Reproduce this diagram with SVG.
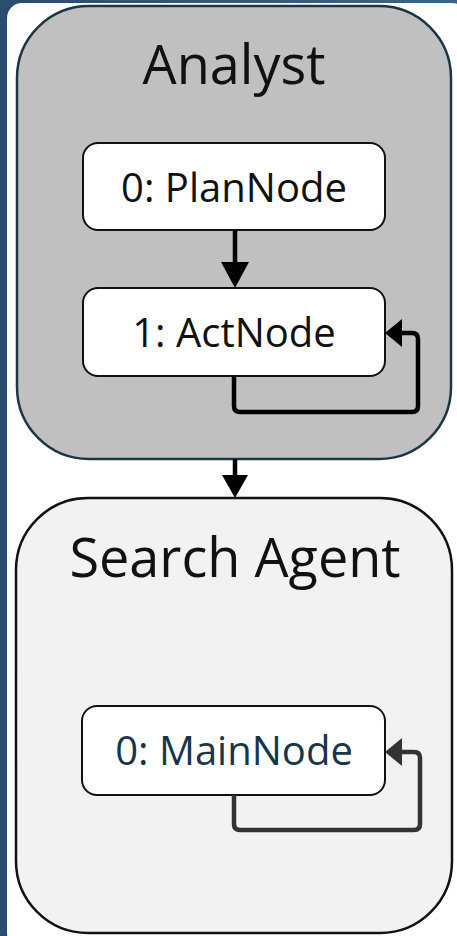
<svg xmlns="http://www.w3.org/2000/svg" width="457" height="936" viewBox="0 0 457 936">
<defs>
<linearGradient id="bg" x1="0" y1="0" x2="1" y2="0">
<stop offset="0" stop-color="#2a4d6e"/>
<stop offset="1" stop-color="#3a6486"/>
</linearGradient>
<style>
.cl-a{fill:#c0c0c0;stroke:#1b3644;stroke-width:2.5}
.cl-s{fill:#f3f2f3;stroke:#111;stroke-width:2.5}
.title{font-family:"Open Sans","Noto Sans",sans-serif;font-size:54px;fill:#111;text-anchor:middle}
.node rect{fill:#fff;stroke:#111;stroke-width:2}
.node text{font-family:"Open Sans","Noto Sans",sans-serif;font-size:40px;fill:#111;text-anchor:middle}
.edge{fill:none;stroke:#000;stroke-width:4.5;stroke-linejoin:round}
</style>
</defs>
<rect x="0" y="0" width="457" height="936" fill="url(#bg)"/>
<rect x="7" y="3" width="460" height="945" rx="15" fill="#fff"/>
<g id="analyst">
<rect class="cl-a" x="17" y="6" width="434" height="453" rx="72"/>
<text class="title" x="234" y="84">Analyst</text>
</g>
<g id="search-agent">
<rect class="cl-s" x="16" y="498" width="436" height="435" rx="72"/>
<text class="title" x="235" y="577">Search Agent</text>
</g>
<g id="plan-node" class="node">
<rect x="83" y="143" width="302" height="87" rx="15"/>
<text x="234" y="202">0: PlanNode</text>
</g>
<g id="act-node" class="node">
<rect x="83" y="288" width="302" height="88" rx="15"/>
<text x="234" y="347">1: ActNode</text>
</g>
<g id="main-node" class="node">
<rect x="82" y="706" width="303" height="89" rx="15"/>
<text x="234" y="765" style="fill:#17364a">0: MainNode</text>
</g>
<g id="connectors">
<path class="edge" d="M235,230 V262"/>
<path d="M221,262 L249,262 L235,288 Z" fill="#000"/>
<path class="edge" d="M234,376 V406 Q234,412 240,412 H412 Q418,412 418,406 V339 Q418,333 412,333 H400"/>
<path d="M402,319 L402,347 L385,333 Z" fill="#000"/>
<path class="edge" d="M235,459 V476"/>
<path d="M222,475 L248,475 L235,498 Z" fill="#000"/>
<path class="edge" d="M234,795 V824 Q234,830 240,830 H414 Q420,830 420,824 V758 Q420,752 414,752 H400" style="stroke:#333"/>
<path d="M402,738 L402,766 L385,752 Z" fill="#333"/>
</g>
</svg>
